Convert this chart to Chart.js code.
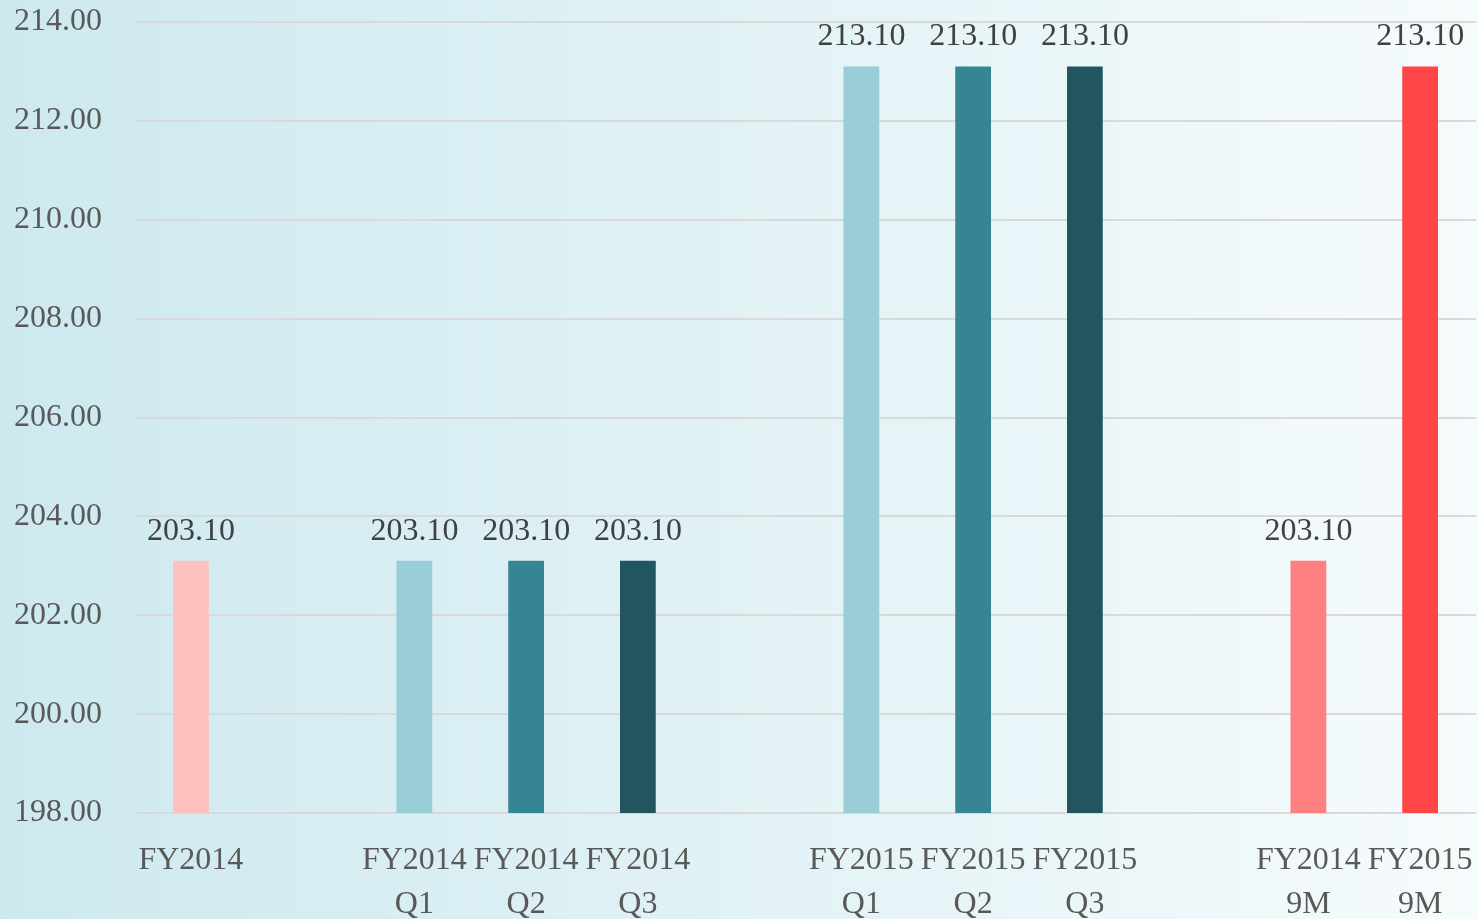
<!DOCTYPE html>
<html>
<head>
<meta charset="utf-8">
<script src="https://cdn.jsdelivr.net/npm/chart.js@4"></script>
<style>
  html, body { margin: 0; padding: 0; overflow: hidden; }
  body { width: 1479px; height: 919px; background: linear-gradient(to right, #cde9ef, #f6fbfc); }
  #wrap { width: 1479px; height: 919px; position: relative; }
</style>
</head>
<body>
<div id="wrap"><canvas id="chart"></canvas></div>
<script>
'use strict';

// ── Data ─────────────────────────────────────────────────────────────────────

const LABELS = [
    'FY2014', '',
    ['FY2014', 'Q1'], ['FY2014', 'Q2'], ['FY2014', 'Q3'], '',
    ['FY2015', 'Q1'], ['FY2015', 'Q2'], ['FY2015', 'Q3'], '',
    ['FY2014', '9M'], ['FY2015', '9M'],
];
const VALUES = [203.1, null, 203.1, 203.1, 203.1, null, 213.1, 213.1, 213.1, null, 203.1, 213.1];
const COLORS = ['#ffc0c0', null, '#99cdd8', '#368594', '#215660', null,
                '#99cdd8', '#368594', '#215660', null, '#ff8080', '#ff4545'];

const Y_MIN  = 198;
const Y_MAX  = 214;
const Y_STEP = 2;

const FONT = "'Liberation Serif', 'Times New Roman', serif";

// ── Value labels above bars ──────────────────────────────────────────────────

const valueLabels = {
    id: 'valueLabels',
    afterDatasetsDraw(chart) {
        const ctx  = chart.ctx;
        const meta = chart.getDatasetMeta(0);
        ctx.save();
        ctx.font = `32px ${FONT}`;
        ctx.fillStyle = '#404040';
        ctx.textAlign = 'center';
        ctx.textBaseline = 'alphabetic';
        meta.data.forEach((bar, i) => {
            const v = VALUES[i];
            if (v == null) return;
            ctx.fillText(v.toFixed(2), bar.x, bar.y - 21);
        });
        ctx.restore();
    }
};

// ── Chart ────────────────────────────────────────────────────────────────────

new Chart(document.getElementById('chart'), {
    type: 'bar',
    data: {
        labels: LABELS,
        datasets: [{
            data: VALUES,
            backgroundColor: COLORS,
            barPercentage: 0.32,
            categoryPercentage: 1,
        }]
    },
    options: {
        responsive: true,
        maintainAspectRatio: false,
        animation: false,
        layout: { padding: { left: 15, right: 3, top: 22, bottom: 0 } },
        plugins: { legend: { display: false }, tooltip: { enabled: false } },
        scales: {
            x: {
                grid: { display: false },
                border: { display: false },
                ticks: {
                    color: '#595959',
                    font: { family: FONT, size: 32, lineHeight: 1.375 },
                    padding: 18,
                    maxRotation: 0,
                    autoSkip: false,
                },
                afterFit(scale) {
                    scale.paddingLeft = 0;
                    scale.paddingRight = 0;
                    scale.height = 106;
                }
            },
            y: {
                min: Y_MIN,
                max: Y_MAX,
                border: { display: false },
                grid: { color: '#d9d9d9', lineWidth: 2, drawTicks: false },
                ticks: {
                    stepSize: Y_STEP,
                    color: '#595959',
                    font: { family: FONT, size: 32 },
                    padding: 33,
                    callback: v => v.toFixed(2),
                },
                afterFit(scale) {
                    scale.width = 120;
                    scale.paddingTop = 0;
                    scale.paddingBottom = 0;
                }
            }
        }
    },
    plugins: [valueLabels]
});
</script>
</body>
</html>
